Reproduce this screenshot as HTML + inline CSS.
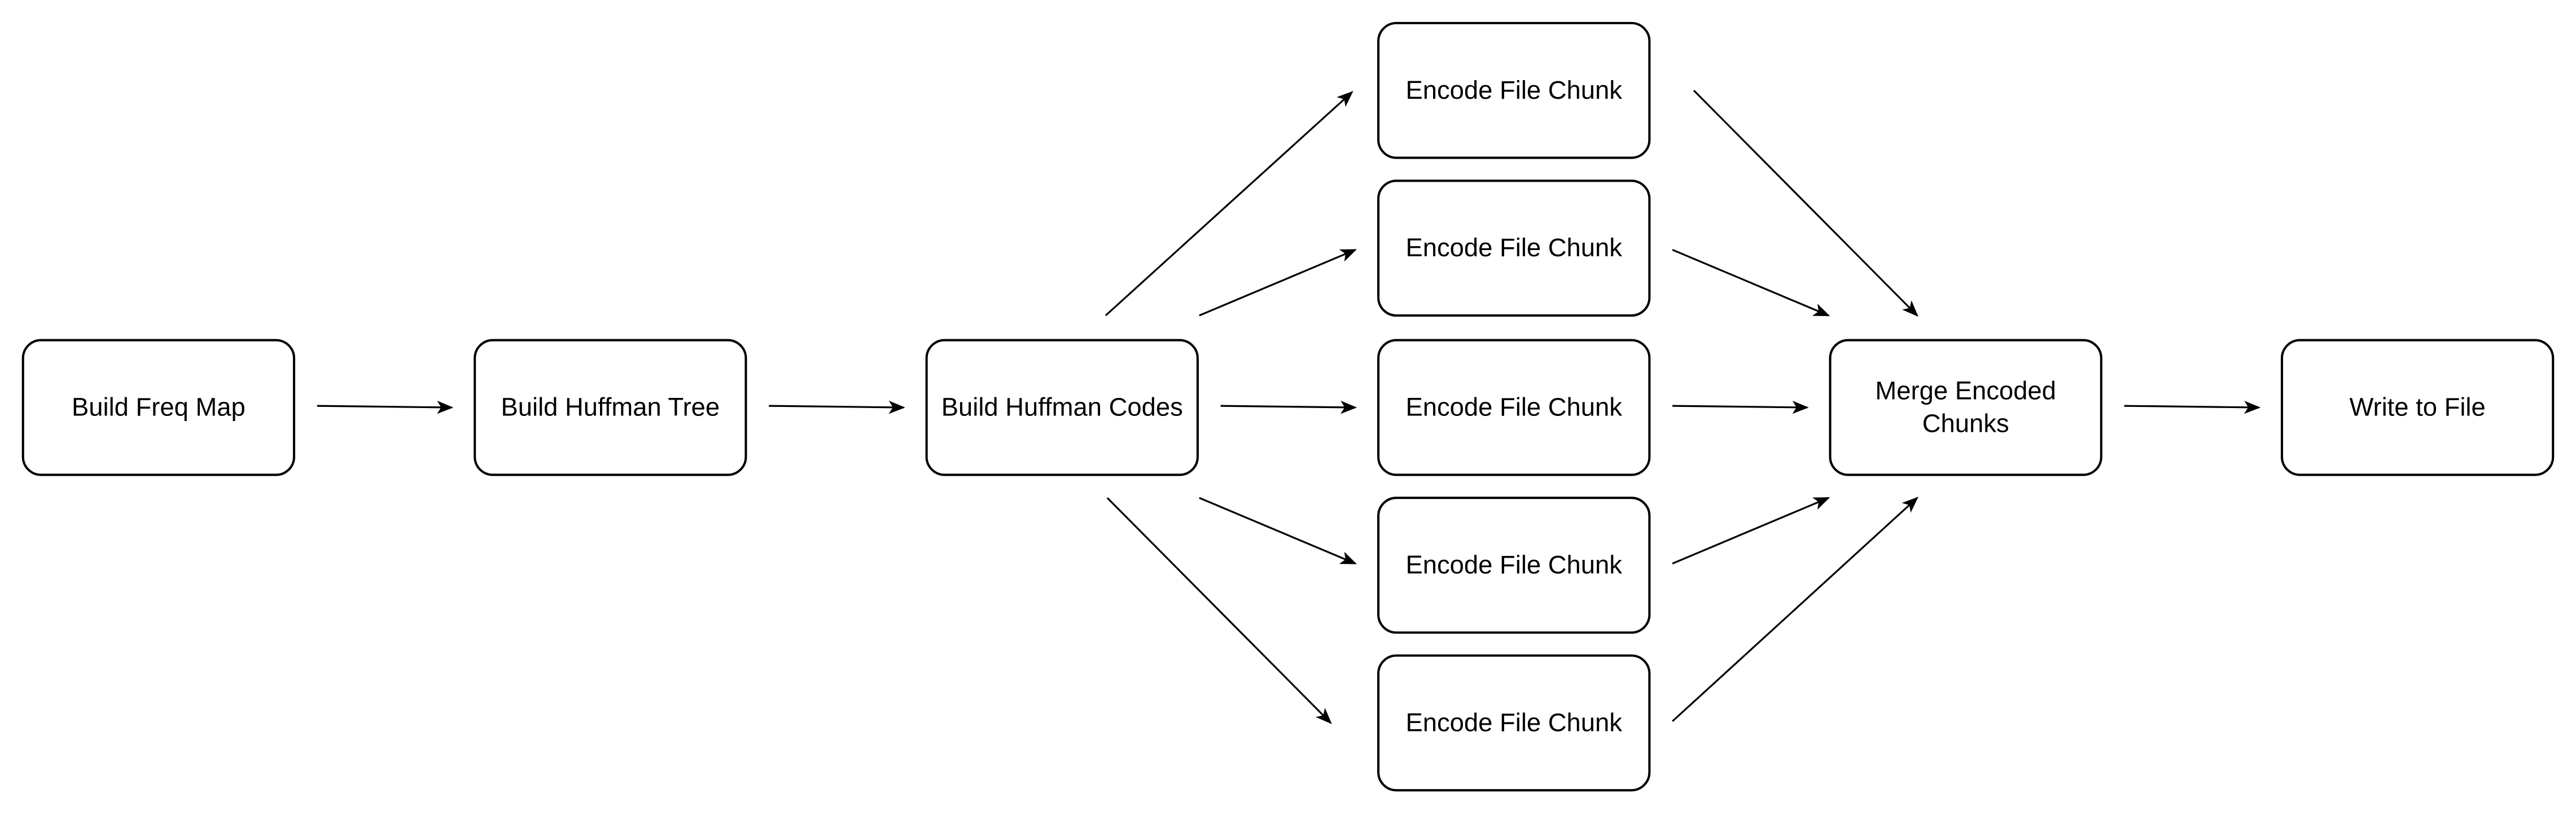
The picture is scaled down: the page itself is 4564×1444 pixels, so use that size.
<!DOCTYPE html>
<html><head><meta charset="utf-8"><style>html,body{margin:0;padding:0;background:#fff}svg{display:block}</style></head>
<body>
<svg width="4564" height="1444" viewBox="0 0 1568 496" xmlns="http://www.w3.org/2000/svg">
<defs>
<marker id="a" viewBox="0 0 10 8" refX="9" refY="4" markerWidth="10" markerHeight="8" markerUnits="userSpaceOnUse" orient="auto">
<path d="M0,0 L10,4 L0,8 L2.5,4 Z" fill="#000"/>
</marker>
</defs>
<g fill="#fff" stroke="#000" stroke-width="1.4">
<rect x="14" y="207" width="165" height="82" rx="11"/>
<rect x="289" y="207" width="165" height="82" rx="11"/>
<rect x="564" y="207" width="165" height="82" rx="11"/>
<rect x="839" y="14" width="165" height="82" rx="11"/>
<rect x="839" y="110" width="165" height="82" rx="11"/>
<rect x="839" y="207" width="165" height="82" rx="11"/>
<rect x="839" y="303" width="165" height="82" rx="11"/>
<rect x="839" y="399" width="165" height="82" rx="11"/>
<rect x="1114" y="207" width="165" height="82" rx="11"/>
<rect x="1389" y="207" width="165" height="82" rx="11"/>
</g>
<g stroke="#000" stroke-width="1.1" fill="none" marker-end="url(#a)">
<line x1="193" y1="247" x2="275" y2="248"/>
<line x1="468" y1="247" x2="550" y2="248"/>
<line x1="743" y1="247" x2="825" y2="248"/>
<line x1="1018" y1="247" x2="1100" y2="248"/>
<line x1="1293" y1="247" x2="1375" y2="248"/>
<line x1="673" y1="192" x2="823" y2="56"/>
<line x1="730" y1="192" x2="825" y2="152"/>
<line x1="730" y1="303" x2="825" y2="343"/>
<line x1="674" y1="303" x2="810" y2="440"/>
<line x1="1031" y1="55" x2="1167" y2="192"/>
<line x1="1018" y1="152" x2="1113" y2="192"/>
<line x1="1018" y1="343" x2="1113" y2="303"/>
<line x1="1018" y1="439" x2="1167" y2="303"/>
</g>
<g font-family="Liberation Sans, Arial, sans-serif" font-size="15.6" text-anchor="middle" fill="#000">
<text x="96.5" y="253">Build Freq Map</text>
<text x="371.5" y="253">Build Huffman Tree</text>
<text x="646.5" y="253">Build Huffman Codes</text>
<text x="921.5" y="60">Encode File Chunk</text>
<text x="921.5" y="156">Encode File Chunk</text>
<text x="921.5" y="253">Encode File Chunk</text>
<text x="921.5" y="349">Encode File Chunk</text>
<text x="921.5" y="445">Encode File Chunk</text>
<text x="1196.5" y="243">Merge Encoded</text>
<text x="1196.5" y="263">Chunks</text>
<text x="1471.5" y="253">Write to File</text>
</g>
</svg>
</body></html>
